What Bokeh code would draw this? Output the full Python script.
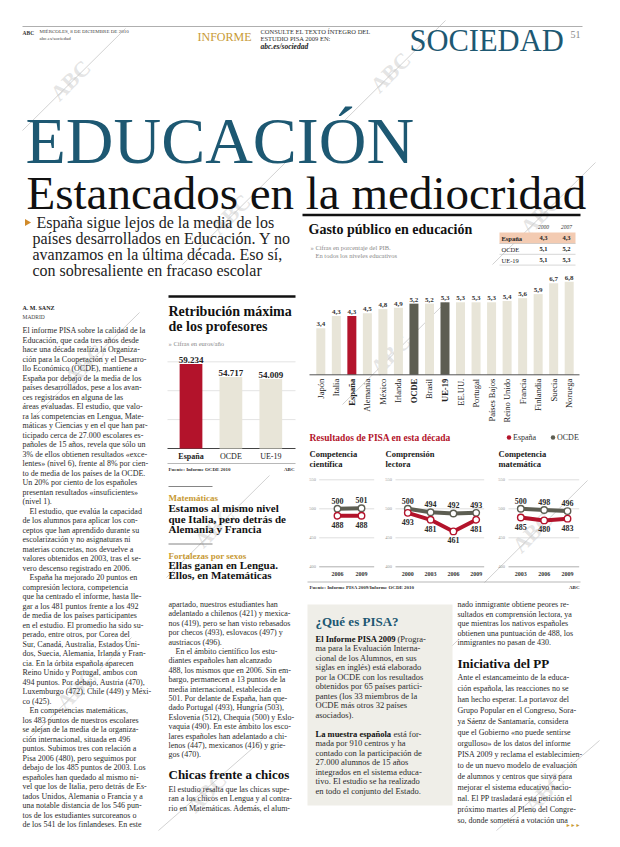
import numpy as np
from bokeh.plotting import figure
from bokeh.models import Range1d, ColumnDataSource
from bokeh.core.properties import value, field
from bokeh.embed import file_html
from bokeh.resources import INLINE

# ---------------- data ----------------
gasto_paises = ["Japón", "Italia", "España", "Alemania", "México", "Irlanda", "OCDE", "Brasil",
                "UE-19", "EE.UU.", "Portugal", "Países Bajos", "Reino Unido", "Francia",
                "Finlandia", "Suecia", "Noruega"]
gasto_pib = [3.4, 4.3, 4.3, 4.5, 4.8, 4.9, 5.2, 5.2, 5.3, 5.3, 5.3, 5.3, 5.4, 5.6, 5.9, 6.7, 6.8]
tabla_filas = ["España", "OCDE", "UE-19"]
tabla_anios = ["2000", "2007"]
tabla_2000 = [4.3, 5.1, 5.1]
tabla_2007 = [4.3, 5.2, 5.3]

retrib_cat = ["España", "OCDE", "UE-19"]
retrib_euros = [59234, 54717, 54009]
retrib_ticks = [30000, 40000, 50000, 60000]

pisa_ticks = [400, 450, 500, 550]
ciencia_anios = [2006, 2009]
ciencia_esp = [488, 488]
ciencia_ocde = [500, 501]
lectura_anios = [2000, 2003, 2006, 2009]
lectura_esp = [493, 481, 461, 481]
lectura_ocde = [500, 494, 492, 493]
mate_anios = [2003, 2006, 2009]
mate_esp = [485, 480, 483]
mate_ocde = [500, 498, 496]

# ---------------- page texts ----------------
left_lines = [
    "El informe PISA sobre la calidad de la",
    "Educación, que cada tres años desde",
    "hace una década realiza la Organiza-",
    "ción para la Cooperación y el Desarro-",
    "llo Económico (OCDE), mantiene a",
    "España por debajo de la media de los",
    "países desarrollados, pese a los avan-",
    "ces registrados en alguna de las",
    "áreas evaluadas. El estudio, que valo-",
    "ra las competencias en Lengua, Mate-",
    "máticas y Ciencias y en el que han par-",
    "ticipado cerca de 27.000 escolares es-",
    "pañoles de 15 años, revela que sólo un",
    "3% de ellos obtienen resultados «exce-",
    "lentes» (nivel 6), frente al 8% por cien-",
    "to de media de los países de la OCDE.",
    "Un 20% por ciento de los españoles",
    "presentan resultados «insuficientes»",
    "(nivel 1).",
    "\tEl estudio, que evalúa la capacidad",
    "de los alumnos para aplicar los con-",
    "ceptos que han aprendido durante su",
    "escolarización y no asignaturas ni",
    "materias concretas, nos devuelve a",
    "valores obtenidos en 2003, tras el se-",
    "vero descenso registrado en 2006.",
    "\tEspaña ha mejorado 20 puntos en",
    "compresión lectora, competencia",
    "que ha centrado el informe, hasta lle-",
    "gar a los 481 puntos frente a los 492",
    "de media de los países participantes",
    "en el estudio. El promedio ha sido su-",
    "perado, entre otros, por Corea del",
    "Sur, Canadá, Australia, Estados Uni-",
    "dos, Suecia, Alemania, Irlanda y Fran-",
    "cia. En la órbita española aparecen",
    "Reino Unido y Portugal, ambos con",
    "494 puntos. Por debajo, Austria (470),",
    "Luxemburgo (472), Chile (449) y Méxi-",
    "co (425).",
    "\tEn competencias matemáticas,",
    "los 483 puntos de nuestros escolares",
    "se alejan de la media de la organiza-",
    "ción internacional, situada en 496",
    "puntos. Subimos tres con relación a",
    "Pisa 2006 (480), pero seguimos por",
    "debajo de los 485 puntos de 2003. Los",
    "españoles han quedado al mismo ni-",
    "vel que los de Italia, pero detrás de Es-",
    "tados Unidos, Alemania o Francia y a",
    "una notable distancia de los 546 pun-",
    "tos de los estudiantes surcoreanos o",
    "de los 541 de los finlandeses. En este",
]
mid_lines = [
    "apartado, nuestros estudiantes han",
    "adelantado a chilenos (421) y mexica-",
    "nos (419), pero se han visto rebasados",
    "por checos (493), eslovacos (497) y",
    "austriacos (496).",
    "\tEn el ámbito científico los estu-",
    "diantes españoles han alcanzado",
    "488, los mismos que en 2006. Sin em-",
    "bargo, permanecen a 13 puntos de la",
    "media internacional, establecida en",
    "501. Por delante de España, han que-",
    "dado Portugal (493), Hungría (503),",
    "Eslovenia (512), Chequia (500) y Eslo-",
    "vaquia (490). En este ámbito los esco-",
    "lares españoles han adelantado a chi-",
    "lenos (447), mexicanos (416) y grie-",
    "gos (470).",
]
mid2_lines = [
    "El estudio resalta que las chicas supe-",
    "ran a los chicos en Lengua y al contra-",
    "rio en Matemáticas. Además, el alum-",
]
box1_lines = [
    "",
    "ma para la Evaluación Interna-",
    "cional de los Alumnos, en sus",
    "siglas en inglés) está elaborado",
    "por la OCDE con los resultados",
    "obtenidos por 65 países partici-",
    "pantes (los 33 miembros de la",
    "OCDE más otros 32 países",
    "asociados).",
]
box2_lines = [
    "",
    "mada por 910 centros y ha",
    "contado con la participación de",
    "27.000 alumnos de 15 años",
    "integrados en el sistema educa-",
    "tivo. El estudio se ha realizado",
    "en todo el conjunto del Estado.",
]
right1_lines = [
    "nado inmigrante obtiene peores re-",
    "sultados en comprensión lectora, ya",
    "que mientras los nativos españoles",
    "obtienen una puntuación de 488, los",
    "inmigrantes no pasan de 430.",
]
right2_lines = [
    "Ante el estancameinto de la educa-",
    "ción española, las reacciones no se",
    "han hecho esperar. La portavoz del",
    "Grupo Popular en el Congreso, Sora-",
    "ya Sáenz de Santamaría, considera",
    "que el Gobierno «no puede sentirse",
    "orgulloso» de los datos del informe",
    "PISA 2009 y reclama el establecimien-",
    "to de un nuevo modelo de evaluación",
    "de alumnos y centros que sirva para",
    "mejorar el sistema educativo nacio-",
    "nal. El PP trasladará esta petición el",
    "próximo martes al Pleno del Congre-",
    "so, donde someterá a votación una",
]
subtit_lines = [
    "España sigue lejos de la media de los",
    "países desarrollados en Educación. Y no",
    "avanzamos en la última década. Eso sí,",
    "con sobresaliente en fracaso escolar",
]

# ---------------- style ----------------
RED = "#b3132b"
DARK = "#5d5e52"
BEIGE = "#e8e5d8"
TEAL = "#1d5872"
GOLD = "#c89a34"
GRAYT = "#8a8a8a"
BODY = "#2b2b2b"
SERIF = value("Liberation Serif")

W, H = 604, 831
X0, X1 = 8, 8 + W          # page pixel coordinates
Y0, Y1 = 8 + H, 8

p = figure(width=W, height=H, x_range=Range1d(X0, X1), y_range=Range1d(Y0, Y1),
           x_axis_type=None, y_axis_type=None, toolbar_location=None,
           output_backend="svg", outline_line_color=None,
           background_fill_color="white", border_fill_color="white")
p.min_border_left = p.min_border_right = p.min_border_top = p.min_border_bottom = 0


def lin_range(v0, p0, v1, p1, start_px, end_px):
    s = (p1 - p0) / (v1 - v0)
    return Range1d(start=v0 + (start_px - p0) / s, end=v0 + (end_px - p0) / s)


def T(x, y, s, size, color=BODY, style="normal", align="left", baseline="middle", angle=0):
    p.text(x=[x], y=[y], text=[s], text_font=SERIF, text_font_size=f"{size}px",
           text_color=color, text_font_style=style, text_align=align,
           text_baseline=baseline, angle=angle)


def block(x, y0, lh, lines, size=8, color=BODY, indent=7):
    xs, ys, ts = [], [], []
    for i, s in enumerate(lines):
        if not s:
            continue
        xs.append(x + (indent if s.startswith("\t") else 0))
        ys.append(y0 + i * lh)
        ts.append(s.lstrip("\t"))
    p.text(x=xs, y=ys, text=ts, text_font=SERIF, text_font_size=f"{size}px",
           text_color=color, text_align="left", text_baseline="middle")


def hline(x0, x1, y, color="#000", width=1.0, **kw):
    p.segment(x0=[x0], x1=[x1], y0=[y], y1=[y], line_color=color, line_width=width, **kw)


def es1(v):
    return f"{v:.1f}".replace(".", ",")


def esint(v):
    return f"{v:,}".replace(",", ".")

# ---------------- "ABC" watermarks (under everything) ----------------
wm_x = [78, 398, 238, 548, 92, 398, 222, 540, 84, 410, 214, 552]
wm_y = [88, 80, 222, 222, 372, 362, 535, 540, 697, 700, 800, 800]
nw = len(wm_x)
p.segment(x0=[x - 48 for x in wm_x], y0=[min(y + 50, 838) for y in wm_y],
          x1=[x + 55 for x in wm_x], y1=[y - 52 for y in wm_y],
          line_color="#b8b8b8", line_width=0.8, line_alpha=0.8)
p.text(x=wm_x, y=wm_y, text=["ABC"] * nw, text_font=SERIF, text_font_size="22px",
       text_font_style="bold", text_color="#c4c4c4", text_alpha=0.45,
       text_align="center", text_baseline="middle", angle=np.pi / 4)

# ---------------- header ----------------
hline(30, 590, 34, "#9a9a9a", 0.8)
T(30, 40, "ABC", 5.5, "#333", "bold")
T(47, 39, "MIÉRCOLES, 8 DE DICIEMBRE DE 2010", 5, "#444")
T(47, 46, "abc.es/sociedad", 5, "#444")
T(205, 44, "INFORME", 12, GOLD)
T(268, 39, "CONSULTE EL TEXTO ÍNTEGRO DEL", 6.5, "#333")
T(268, 46, "ESTUDIO PISA 2009 EN:", 6.5, "#333")
T(268, 54, "abc.es/sociedad", 7.5, "#222", "bold italic")
T(417, 48, "SOCIEDAD", 30.5, TEAL)
T(578, 42, "51", 10, "#8a8a8a")

T(33, 148, "EDUCACIÓN", 66, TEAL, baseline="alphabetic")
T(34, 200, "Estancados en la mediocridad", 47, "#111", baseline="alphabetic")

p.scatter(x=[34.5], y=[230], marker="triangle", size=7, angle=-np.pi / 2,
          fill_color="#d08a2a", line_color=None)
for i, s in enumerate(subtit_lines):
    T(44 if i == 0 else 40, 229.5 + i * 16.3, s, 16, "#222")

# ---------------- gasto publico chart ----------------
hline(310, 588, 222.5, "#111", 2.5)
T(316, 237, "Gasto público en educación", 14, "#111", "bold")
T(318, 255, "» Cifras en porcentaje del PIB.", 6.5, GRAYT)
T(323, 263, "En todos los niveles educativos", 6.5, GRAYT)

# small table
p.extra_y_ranges["ty"] = lin_range(0, 245.5, 1, 256.5, Y0, Y1)
p.extra_x_ranges["tx"] = lin_range(0, 551, 1, 574, X0, X1)
p.quad(left=[507], right=[583], top=[240], bottom=[251], fill_color="#f3cbb2", line_color=None)
for yy in (251, 261.8, 272.6):
    hline(507, 583, yy, "#bbbbbb", 0.6)
p.text(x=[0, 1], y=[-1, -1], text=tabla_anios, x_range_name="tx", y_range_name="ty",
       text_font=SERIF, text_font_size="5.5px", text_font_style="italic", text_color="#333",
       text_align="center", text_baseline="middle")
rows = list(range(len(tabla_filas)))
p.text(x=[509] * len(rows), y=rows, text=tabla_filas, y_range_name="ty",
       text_font=SERIF, text_font_size="6.5px", text_color="#222",
       text_font_style=["bold"] + ["normal"] * (len(rows) - 1),
       text_align="left", text_baseline="middle")
p.text(x=[0] * len(rows), y=rows, text=[es1(v) for v in tabla_2000], x_range_name="tx", y_range_name="ty",
       text_font=SERIF, text_font_size="6.5px", text_font_style="bold", text_color="#222",
       text_align="center", text_baseline="middle")
p.text(x=[1] * len(rows), y=rows, text=[es1(v) for v in tabla_2007], x_range_name="tx", y_range_name="ty",
       text_font=SERIF, text_font_size="6.5px", text_font_style="bold", text_color="#222",
       text_align="center", text_baseline="middle")

# bars
p.extra_x_ranges["gx"] = lin_range(0, 328.3, 1, 328.3 + 15.525, X0, X1)
p.extra_y_ranges["gy"] = lin_range(0, 382.3, 1, 382.3 - 13.68, Y0, Y1)
destac = {"España": RED, "OCDE": DARK, "UE-19": DARK}
n = len(gasto_paises)
gsrc = ColumnDataSource(dict(
    x=list(range(n)), top=gasto_pib, zero=[0] * n,
    color=[destac.get(c, BEIGE) for c in gasto_paises],
    lab=[es1(v) for v in gasto_pib], name=gasto_paises,
    style=["bold" if c in destac else "normal" for c in gasto_paises]))
p.vbar(x="x", top="top", bottom="zero", width=0.58, fill_color="color", line_color=None,
       source=gsrc, x_range_name="gx", y_range_name="gy")
p.text(x="x", y="top", text="lab", source=gsrc, x_range_name="gx", y_range_name="gy",
       text_font=SERIF, text_font_size="7px", text_font_style="bold", text_color="#333",
       text_align="center", text_baseline="bottom", y_offset=-2)
p.text(x="x", y="zero", text="name", source=gsrc, x_range_name="gx", y_range_name="gy",
       text_font=SERIF, text_font_size="8.5px", text_font_style=field("style"), text_color="#222",
       text_align="right", text_baseline="middle", angle=np.pi / 2, y_offset=4)
p.segment(x0=[317], x1=[587], y0=[0], y1=[0], y_range_name="gy", line_color="#555", line_width=1)

# ---------------- PISA charts ----------------
T(317, 445, "Resultados de PISA en esta década", 9.5, RED, "bold")
p.scatter(x=[516.5, 560.5], y=[445, 445], size=4.5, fill_color=[RED, DARK], line_color=None)
T(520.5, 445, "España", 8, "#333")
T(564.5, 445, "OCDE", 8, "#333")

p.extra_y_ranges["py"] = lin_range(500, 516.3, 400, 574.3, Y0, Y1)
charts = [
    ("c1", ("Competencia", "científica"), 317, (326.7, 381.7), 320,
     ciencia_anios, ciencia_esp, ciencia_ocde, (2006, 345.0, 2009, 369.0)),
    ("c2", ("Comprensión", "lectora"), 393, (403.0, 491.7), 396,
     lectura_anios, lectura_esp, lectura_ocde, (2000, 415.3, 2009, 483.7)),
    ("c3", ("Competencia", "matemática"), 506, (516.0, 586.7), 509,
     mate_anios, mate_esp, mate_ocde, (2003, 528.3, 2009, 575.0)),
]
for name, title, tx, (gx0, gx1), lx, anios, esp, ocde, cal in charts:
    T(tx, 461.5, title[0], 8.5, "#1a1a1a", "bold")
    T(tx, 471.5, title[1], 8.5, "#1a1a1a", "bold")
    xr = name + "x"
    p.extra_x_ranges[xr] = lin_range(cal[0], cal[1], cal[2], cal[3], X0, X1)
    k = len(pisa_ticks)
    p.segment(x0=[gx0] * k, x1=[gx1] * k, y0=pisa_ticks, y1=pisa_ticks, y_range_name="py",
              line_color=["#9a9a9a"] + ["#d6d6d6"] * (k - 1), line_width=0.8)
    p.text(x=[lx] * k, y=pisa_ticks, text=[str(t) for t in pisa_ticks], y_range_name="py",
           text_font=SERIF, text_font_size="4.5px", text_color="#999", text_align="center",
           text_baseline="middle")
    m = len(anios)
    p.text(x=anios, y=[pisa_ticks[0]] * m, text=[str(a) for a in anios], x_range_name=xr,
           y_range_name="py", text_font=SERIF, text_font_size="6px", text_font_style="bold",
           text_color="#333", text_align="center", text_baseline="middle", y_offset=7)
    for serie, col, off in ((ocde, DARK, -8), (esp, RED, 9)):
        p.line(x=anios, y=serie, x_range_name=xr, y_range_name="py", line_color=col,
               line_width=4, line_join="round")
        p.scatter(x=anios, y=serie, x_range_name=xr, y_range_name="py", size=6.5,
                  fill_color="white", line_color=col, line_width=1.4)
        p.text(x=anios, y=serie, text=[str(v) for v in serie], x_range_name=xr, y_range_name="py",
               text_font=SERIF, text_font_size="8px", text_font_style="bold", text_color="#2a2a2a",
               text_align="center", text_baseline="middle", y_offset=off)

hline(315, 588, 589.5, "#999", 0.7)
T(317, 595, "Fuente: Informe PISA 2009/Informe OCDE 2010", 5, "#333", "bold")
T(587, 595, "ABC", 5, "#333", "bold", align="right")

# ---------------- retribucion chart ----------------
hline(176, 303, 304, "#111", 2.5)
T(176, 318.5, "Retribución máxima", 14, "#111", "bold")
T(176, 333.5, "de los profesores", 14, "#111", "bold")
T(176, 350.5, "» Cifras en euros/año", 6.5, GRAYT)
p.extra_x_ranges["rx"] = lin_range(0, 198.5, 2, 278.3, X0, X1)
p.extra_y_ranges["ry"] = lin_range(30000, 456, 60000, 369.3, Y0, Y1)
kt = len(retrib_ticks)
p.segment(x0=[175] * kt, x1=[303] * kt, y0=retrib_ticks, y1=retrib_ticks, y_range_name="ry",
          line_color=["#444"] + ["#dcdcdc"] * (kt - 1), line_width=[1] + [0.8] * (kt - 1))
nr = len(retrib_cat)
rsrc = ColumnDataSource(dict(
    x=list(range(nr)), top=retrib_euros, base=[retrib_ticks[0]] * nr,
    color=[RED if c == "España" else BEIGE for c in retrib_cat],
    lab=[esint(v) for v in retrib_euros], name=retrib_cat,
    style=["bold" if c == "España" else "normal" for c in retrib_cat]))
p.vbar(x="x", top="top", bottom="base", width=0.57, fill_color="color", line_color=None,
       source=rsrc, x_range_name="rx", y_range_name="ry")
p.text(x="x", y="top", text="lab", source=rsrc, x_range_name="rx", y_range_name="ry",
       text_font=SERIF, text_font_size="9px", text_font_style="bold", text_color="#222",
       text_align="center", text_baseline="bottom", y_offset=-1)
p.text(x="x", y="base", text="name", source=rsrc, x_range_name="rx", y_range_name="ry",
       text_font=SERIF, text_font_size="8px", text_font_style=field("style"), text_color="#222",
       text_align="center", text_baseline="middle", y_offset=8)
hline(175, 303, 471, "#999", 0.7)
T(176, 477, "Fuente: Informe OCDE 2010", 5, "#333", "bold")
T(302, 477, "ABC", 5, "#333", "bold", align="right")

# ---------------- side notes ----------------
hline(176, 220, 494, "#666", 0.8)
T(176, 505.5, "Matemáticas", 9, GOLD, "bold")
for i, s in enumerate(["Estamos al mismo nivel", "que Italia, pero detrás de", "Alemania y Francia"]):
    T(176, 515.5 + i * 10.5, s, 11, "#111", "bold")
hline(176, 220, 551.5, "#666", 0.8)
T(176, 563, "Fortalezas por sexos", 9, GOLD, "bold")
for i, s in enumerate(["Ellas ganan en Lengua.", "Ellos, en Matemáticas"]):
    T(176, 572.5 + i * 9.8, s, 11, "#111", "bold")

# ---------------- body text ----------------
T(30, 315, "A. M. SANZ", 6, "#222", "bold")
T(30, 324, "MADRID", 5.5, "#444")
block(30, 338, 9.5, left_lines)
block(176, 612, 9.4, mid_lines)
T(176, 782, "Chicas frente a chicos", 13, "#111", "bold")
block(176, 797, 9.3, mid2_lines)

# PISA box
p.quad(left=[315], right=[460], top=[612], bottom=[813], fill_color="#efeee8", line_color=None)
T(323, 629, "¿Qué es PISA?", 13, TEAL, "bold")
T(323, 646, "El Informe PISA 2009", 8.5, "#111", "bold")
T(405, 646, "(Progra-", 8.5, BODY)
block(323, 646, 9.5, box1_lines, size=8.5)
T(323, 741, "La muestra española", 8.5, "#111", "bold")
T(401, 741, "está for-", 8.5, BODY)
block(323, 741, 9.5, box2_lines, size=8.5)

# right column
block(465, 612, 9.6, right1_lines)
T(465, 671, "Iniciativa del PP", 13, "#111", "bold")
block(465, 685, 11.0, right2_lines)
T(588, 833, "►►►", 5, GOLD, align="right")

open("out.html", "w").write(file_html(p, INLINE))
